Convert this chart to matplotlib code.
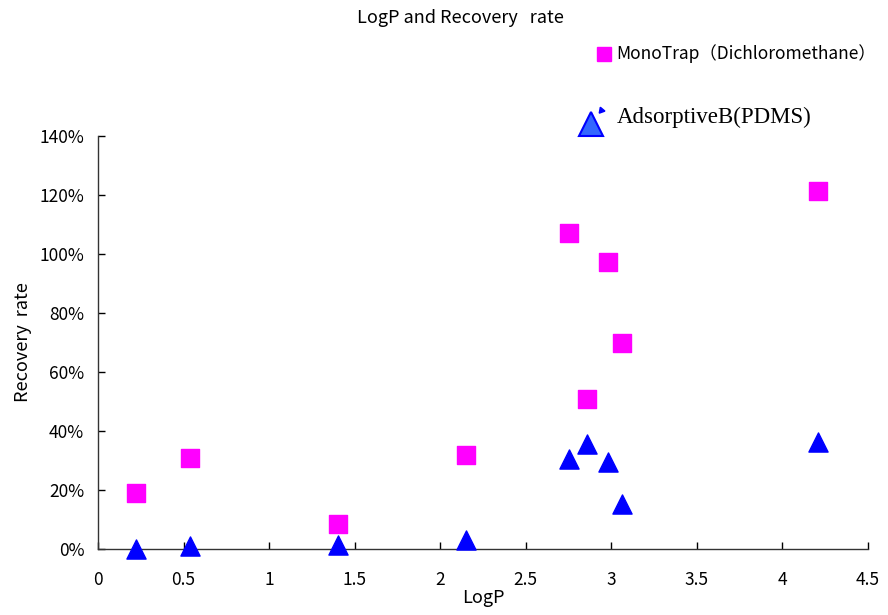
import matplotlib.pyplot as plt
from matplotlib.ticker import FuncFormatter

plt.rcParams['font.family'] = ['Noto Sans CJK JP', 'DejaVu Sans']

# LogP values and recovery rates (%)
logp = [0.22, 0.54, 1.40, 2.15, 2.75, 2.86, 2.98, 3.06, 4.21]
monotrap = [19.0, 30.8, 8.5, 31.9, 107.1, 50.8, 97.3, 69.8, 121.4]
pdms = [0.0, 1.0, 1.2, 3.0, 30.5, 35.6, 29.5, 15.4, 36.3]

xticks = [0, 0.5, 1, 1.5, 2, 2.5, 3, 3.5, 4, 4.5]
xtick_labels = ['0', '0.5', '1', '1.5', '2', '2.5', '3', '3.5', '4', '4.5']
yticks = [0, 20, 40, 60, 80, 100, 120, 140]

fig = plt.figure(figsize=(8.88, 6.15), dpi=100)
ax = fig.add_axes([0.1104, 0.1073, 0.8671, 0.6716])

ax.scatter(logp, monotrap, marker='s', s=170, color='#ff00ff', zorder=3, clip_on=False)
ax.scatter(logp, pdms, marker='^', s=190, color='#0000ff', zorder=3, clip_on=False)

ax.set_xlim(0, 4.5)
ax.set_ylim(0, 140)
ax.set_xticks(xticks, labels=xtick_labels)
ax.set_yticks(yticks)
ax.yaxis.set_major_formatter(FuncFormatter(lambda v, p: f"{v:.0f}%"))
ax.tick_params(direction='in', length=5, width=1, labelsize=12.5)
ax.tick_params(axis='x', pad=16)
ax.tick_params(axis='y', pad=10)

for side in ['top', 'right']:
    ax.spines[side].set_visible(False)
for side in ['left', 'bottom']:
    ax.spines[side].set_linewidth(1)
    ax.spines[side].set_color('#333333')

ax.set_xlabel('LogP', fontsize=13, labelpad=0)
ax.set_ylabel('Recovery  rate', fontsize=13, labelpad=5)

fig.text(460 / 888, 1 - 18 / 615, 'LogP and Recovery   rate', ha='center', va='center', fontsize=13)

# legend drawn by hand
fig.lines.append(plt.Line2D([604 / 888], [1 - 54 / 615], marker='s', markersize=10,
                            color='#ff00ff', transform=fig.transFigure))
fig.text(616 / 888, 1 - 54 / 615, 'MonoTrap（Dichloromethane）', ha='left', va='center', fontsize=12.5)

fig.lines.append(plt.Line2D([591 / 888], [1 - 124 / 615], marker='^', markersize=17,
                            markerfacecolor='#3366ff', markeredgecolor='#0000ff', markeredgewidth=1.5,
                            transform=fig.transFigure))
fig.lines.append(plt.Line2D([601 / 888], [1 - 110 / 615], marker=(3, 0, 20), markersize=5,
                            color='#0000ff', transform=fig.transFigure))
fig.text(617 / 888, 1 - 117 / 615, 'AdsorptiveB(PDMS)', ha='left', va='center', fontsize=16.5,
         family=['Liberation Serif'])

fig.savefig('out.png', dpi=100)
